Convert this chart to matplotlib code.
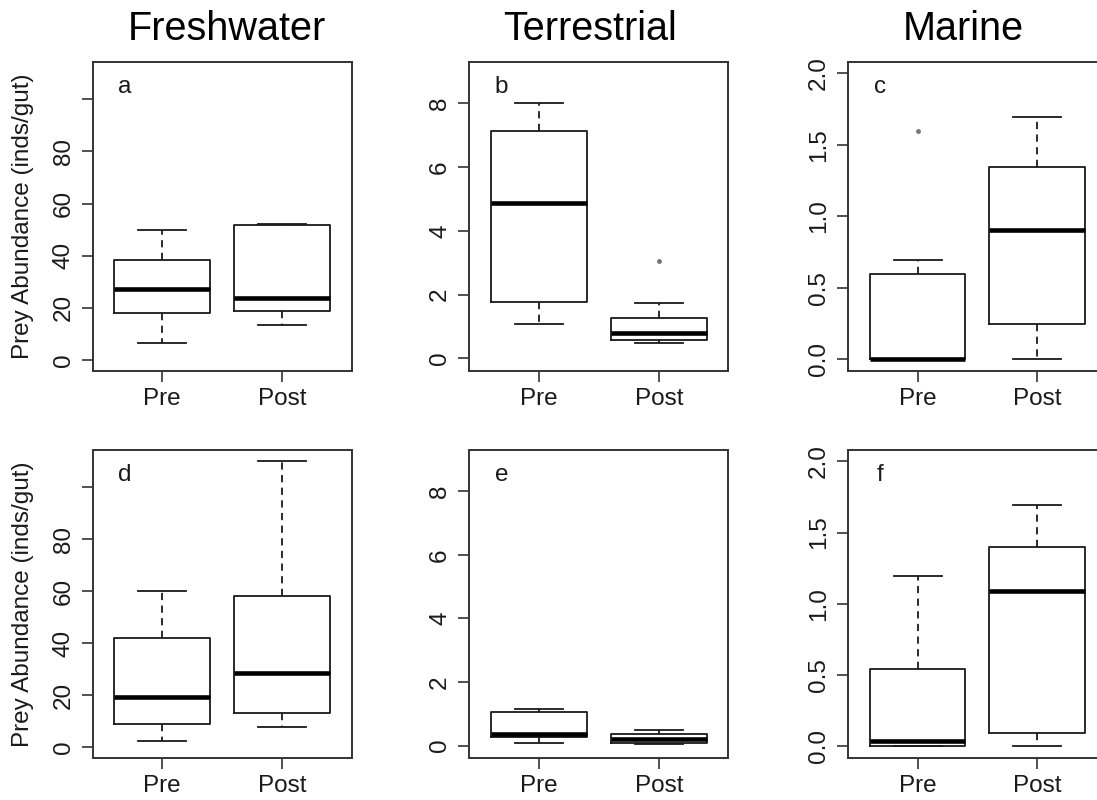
import matplotlib
matplotlib.use('Agg')
import matplotlib.pyplot as plt

plt.rcParams['font.family'] = ['Liberation Sans', 'DejaVu Sans']

# Datos: [bigote inf, Q1, mediana, Q3, bigote sup]
grupos = ['Pre', 'Post']

a_pre = [6.4, 18.0, 27.0, 38.2, 49.8]
a_post = [13.3, 18.7, 23.8, 51.7, 52.1]
b_pre = [1.07, 1.76, 4.88, 7.13, 8.0]
b_post = [0.48, 0.59, 0.80, 1.27, 1.75]
c_pre = [0.0, 0.0, 0.0, 0.593, 0.694]
c_post = [0.0, 0.248, 0.902, 1.346, 1.696]
d_pre = [2.3, 8.8, 19.1, 41.9, 59.9]
d_post = [7.7, 13.0, 28.5, 58.2, 110.3]
e_pre = [0.08, 0.27, 0.38, 1.06, 1.16]
e_post = [0.06, 0.08, 0.22, 0.38, 0.48]
f_pre = [0.0, 0.0, 0.037, 0.54, 1.194]
f_post = [0.0, 0.096, 1.093, 1.40, 1.696]

# Valores atipicos
b_post_out = [3.06]
c_pre_out = [1.598]

titulos = ['Freshwater', 'Terrestrial', 'Marine']
letras = ['a', 'b', 'c', 'd', 'e', 'f']

ticks_fw = [0, 20, 40, 60, 80, 100]
etiq_fw = ['0', '20', '40', '60', '80', '']
ticks_te = [0, 2, 4, 6, 8]
etiq_te = ['0', '2', '4', '6', '8']
ticks_ma = [0.0, 0.5, 1.0, 1.5, 2.0]
etiq_ma = ['0.0', '0.5', '1.0', '1.5', '2.0']

COLOR = '#1a1a1a'


def stats(cinco, outliers=None):
    lo, q1, med, q3, hi = cinco
    return dict(whislo=lo, q1=q1, med=med, q3=q3, whishi=hi,
                fliers=outliers if outliers else [])


paneles = [
    (a_pre, a_post, [], [], ticks_fw, etiq_fw, (-4.4, 114.4)),
    (b_pre, b_post, [], b_post_out, ticks_te, etiq_te, (-0.40, 9.30)),
    (c_pre, c_post, c_pre_out, [], ticks_ma, etiq_ma, (-0.085, 2.08)),
    (d_pre, d_post, [], [], ticks_fw, etiq_fw, (-4.4, 114.4)),
    (e_pre, e_post, [], [], ticks_te, etiq_te, (-0.40, 9.30)),
    (f_pre, f_post, [], [], ticks_ma, etiq_ma, (-0.085, 2.08)),
]

fig = plt.figure(figsize=(10.97, 8.0), dpi=100)

izquierdas = [0.0845, 0.4278, 0.773]
abajos = [0.536, 0.052]
ancho = 0.2361
altos = [0.3866, 0.3856]

for i, (pre, post, out_pre, out_post, ticks, etiq, ylim) in enumerate(paneles):
    fila, col = divmod(i, 3)
    ax = fig.add_axes([izquierdas[col], abajos[fila], ancho, altos[fila]])

    ax.bxp([stats(pre, out_pre), stats(post, out_post)],
           positions=[1, 2], widths=0.8, capwidths=0.4,
           boxprops=dict(color=COLOR, lw=1.3),
           medianprops=dict(color='black', lw=3.3, solid_capstyle='butt'),
           whiskerprops=dict(color=COLOR, lw=1.3, linestyle=(0, (4, 3))),
           capprops=dict(color=COLOR, lw=1.3),
           flierprops=dict(marker='o', markersize=2.5, markerfacecolor='#777777',
                           markeredgecolor='#777777', linestyle='none'))

    ax.set_xlim(0.42, 2.58)
    ax.set_ylim(*ylim)
    ax.set_xticks([1, 2])
    ax.set_xticklabels(grupos)
    ax.set_yticks(ticks)
    ax.set_yticklabels(etiq, rotation=90, va='center')

    for s in ax.spines.values():
        s.set_color('#333333')
        s.set_linewidth(1.4)
    ax.tick_params(axis='both', direction='out', length=8, width=1.2,
                   color='#333333', labelsize=17.5, labelcolor=COLOR)
    ax.tick_params(axis='y', pad=5)
    ax.tick_params(axis='x', pad=4)

    ax.text(0.125, 0.92, letras[i], transform=ax.transAxes, ha='center',
            va='center', fontsize=17.5, color=COLOR)

    if col == 0:
        ax.set_ylabel('Prey Abundance (inds/gut)', fontsize=17.5, color=COLOR)
        ax.yaxis.set_label_coords(-0.228, 0.5)

# Titulos de columnas
for x, t in zip([0.207, 0.538, 0.878], titulos):
    fig.text(x, 0.964, t, ha='center', va='center', fontsize=28.5, color='black')

plt.savefig('out.png', dpi=100)
plt.close(fig)
